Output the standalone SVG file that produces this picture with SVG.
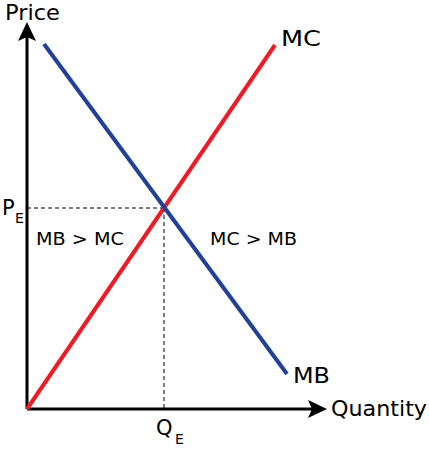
<svg xmlns="http://www.w3.org/2000/svg" width="429" height="451" viewBox="0 0 429 451">
<style>
.ax{stroke:#000;stroke-width:3;fill:none}
.dash{stroke:#000;stroke-width:1;stroke-dasharray:4 3;fill:none}
.t{font-family:"DejaVu Sans","Liberation Sans",Arial,sans-serif;fill:#000}
</style>
<rect width="429" height="451" fill="#fff"/>
<g id="connectors">
<line class="dash" x1="27" y1="208" x2="164" y2="208"/>
<line class="dash" x1="164" y1="208" x2="164" y2="409"/>
<line class="ax" x1="27" y1="409" x2="27" y2="36"/>
<polygon points="27,22 36,41 27,37 18,41" fill="#000"/>
<line class="ax" x1="27" y1="409" x2="312" y2="409"/>
<polygon points="327,409 308,400 312,409 308,418" fill="#000"/>
</g>
<g id="MC"><line x1="27" y1="409" x2="275" y2="45" stroke="#ED1C24" stroke-width="4"/><text class="t" x="281" y="46" font-size="21" textLength="40" lengthAdjust="spacingAndGlyphs">MC</text></g>
<g id="MB"><line x1="44" y1="44" x2="287" y2="374" stroke="#21409A" stroke-width="4"/><text class="t" x="293" y="383" font-size="21" textLength="37" lengthAdjust="spacingAndGlyphs">MB</text></g>
<g id="price"><text class="t" x="5" y="20" font-size="21" textLength="55" lengthAdjust="spacingAndGlyphs">Price</text></g>
<g id="quantity"><text class="t" x="331" y="416" font-size="21" textLength="96" lengthAdjust="spacingAndGlyphs">Quantity</text></g>
<g id="pe"><text class="t" x="2" y="215" font-size="21">P</text><text class="t" x="15" y="223" font-size="14">E</text></g>
<g id="qe"><text class="t" x="156" y="435" font-size="21">Q</text><text class="t" x="175" y="444" font-size="14">E</text></g>
<g id="left"><text class="t" x="36" y="245" font-size="17" textLength="88" lengthAdjust="spacingAndGlyphs">MB &gt; MC</text></g>
<g id="right"><text class="t" x="210" y="245" font-size="17" textLength="87" lengthAdjust="spacingAndGlyphs">MC &gt; MB</text></g>
</svg>
